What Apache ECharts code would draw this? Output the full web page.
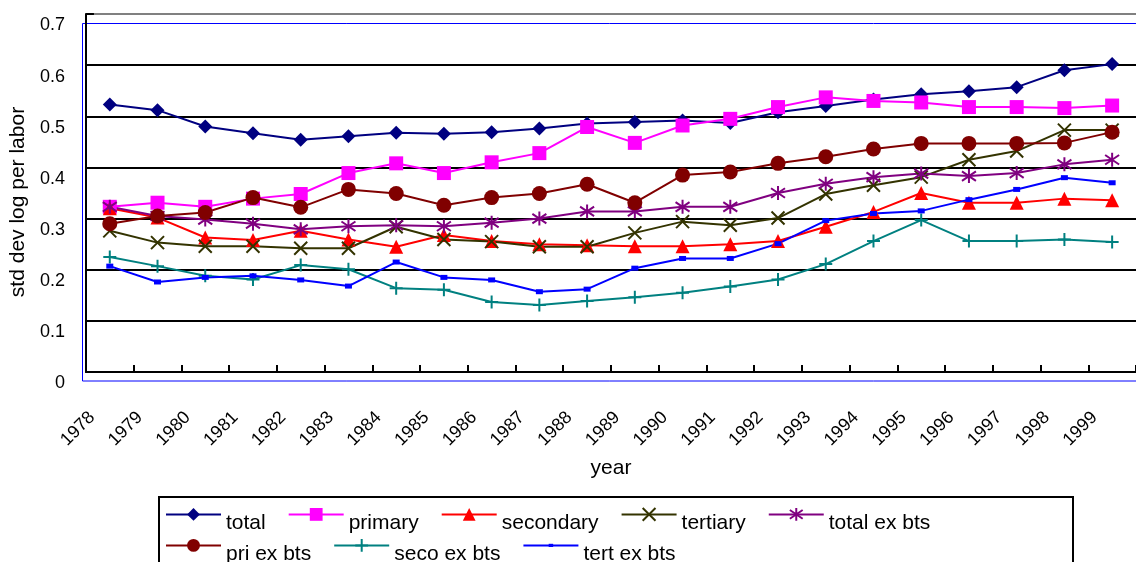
<!DOCTYPE html>
<html>
<head>
<meta charset="utf-8">
<script src="https://cdn.jsdelivr.net/npm/echarts@6/dist/echarts.min.js"></script>
<style>
html,body{margin:0;padding:0;background:#fff;}
#chart{width:1136px;height:562px;}
</style>
</head>
<body>
<div id="chart"></div>
<script>
const years = ['1978','1979','1980','1981','1982','1983','1984','1985','1986','1987','1988','1989','1990','1991','1992','1993','1994','1995','1996','1997','1998','1999'];
const total = [0.523,0.512,0.480,0.467,0.454,0.461,0.468,0.466,0.469,0.476,0.486,0.489,0.492,0.487,0.508,0.520,0.533,0.543,0.549,0.557,0.590,0.602];
const primary = [0.323,0.331,0.323,0.339,0.348,0.389,0.408,0.389,0.410,0.428,0.479,0.448,0.482,0.495,0.518,0.537,0.530,0.527,0.518,0.518,0.516,0.521];
const secondary = [0.320,0.302,0.263,0.258,0.276,0.259,0.245,0.268,0.256,0.250,0.248,0.246,0.246,0.250,0.256,0.284,0.313,0.350,0.331,0.331,0.339,0.336];
const tertiary = [0.276,0.253,0.246,0.246,0.242,0.242,0.284,0.259,0.255,0.245,0.245,0.272,0.294,0.287,0.301,0.348,0.365,0.381,0.415,0.432,0.473,0.473];
const totalExBts = [0.323,0.305,0.298,0.290,0.279,0.285,0.287,0.285,0.292,0.300,0.314,0.314,0.323,0.323,0.350,0.368,0.381,0.388,0.383,0.389,0.406,0.415];
const priExBts = [0.290,0.305,0.312,0.341,0.322,0.357,0.349,0.326,0.341,0.349,0.367,0.331,0.385,0.391,0.408,0.421,0.436,0.447,0.447,0.447,0.448,0.469];
const secoExBts = [0.225,0.207,0.188,0.181,0.209,0.201,0.164,0.161,0.137,0.131,0.139,0.146,0.155,0.167,0.181,0.211,0.256,0.297,0.256,0.256,0.259,0.254];
const tertExBts = [0.207,0.176,0.185,0.188,0.180,0.168,0.215,0.185,0.180,0.157,0.162,0.203,0.222,0.222,0.251,0.296,0.310,0.315,0.337,0.357,0.380,0.370];

const FONT = "'Liberation Sans', Arial, sans-serif";
const X_PATH = 'path://M0,0L10,10M10,0L0,10';
const STAR_PATH = 'path://M5,0L5,10M0.6,1.6L9.4,8.4M9.4,1.6L0.6,8.4';
const PLUS_PATH = 'path://M5,0L5,10M0,5L10,5';
const SMALL_RECT_PATH = 'path://M0,0M20,20M6.5,7.5L13.5,7.5L13.5,12.5L6.5,12.5Z';

function lineSeries(name, data, color, symbol, size, strokeMarker) {
  const s = {
    name: name,
    type: 'line',
    data: data,
    symbol: symbol,
    symbolSize: size,
    showAllSymbol: true,
    lineStyle: { color: color, width: 2 },
    itemStyle: { color: color },
    emphasis: { disabled: true },
    animation: false
  };
  if (strokeMarker) {
    s.itemStyle = { color: color, borderColor: color, borderWidth: 2 };
  }
  return s;
}

const chart = echarts.init(document.getElementById('chart'));
const legendCommon = {
  orient: 'horizontal',
  padding: 0,
  itemWidth: 55,
  itemHeight: 16,
  itemGap: 22,
  formatter: '{t|{name}}',
  textStyle: {
    fontFamily: FONT, fontSize: 21, color: '#000', width: 100,
    rich: { t: { fontFamily: FONT, fontSize: 21, color: '#000', padding: [18, 0, 0, 0] } }
  }
};
chart.setOption({
  backgroundColor: '#fff',
  animation: false,
  grid: { left: 84, right: -13, top: 14, bottom: 190 },
  xAxis: {
    type: 'category',
    data: years,
    boundaryGap: true,
    name: 'year',
    nameLocation: 'middle',
    nameGap: 86,
    nameTextStyle: { fontFamily: FONT, fontSize: 21, color: '#000' },
    axisLine: { lineStyle: { color: '#000', width: 2 } },
    axisTick: { show: true, inside: true, length: 7, alignWithLabel: false, interval: 0, lineStyle: { color: '#000', width: 2 } },
    axisLabel: { interval: 0, rotate: 45, margin: 25, padding: [0, 25, 0, 0], fontFamily: FONT, fontSize: 18, color: '#000' },
    splitLine: { show: false }
  },
  yAxis: {
    type: 'value',
    min: 0,
    max: 0.7,
    interval: 0.1,
    name: 'std dev log per labor',
    nameLocation: 'middle',
    nameGap: 49,
    nameRotate: 90,
    nameTextStyle: { fontFamily: FONT, fontSize: 21, color: '#000', padding: [0, 18, 0, 0] },
    axisLine: { show: true, lineStyle: { color: '#000', width: 2 } },
    axisTick: { show: true, inside: true, length: 8, lineStyle: { color: '#000', width: 2 } },
    axisLabel: {
      margin: 21, fontFamily: FONT, fontSize: 18, color: '#000', verticalAlign: 'top', lineHeight: 23,
      formatter: function (v) { return v === 0 ? '0' : v.toFixed(1); }
    },
    splitLine: { show: true, lineStyle: { width: 2, color: ['#000', '#000', '#000', '#000', '#000', '#000', '#000', '#808080'] } }
  },
  legend: [
    Object.assign({}, legendCommon, { left: 165, top: 507, data: ['total', 'primary', 'secondary', 'tertiary', 'total ex bts'] }),
    Object.assign({}, legendCommon, { left: 165, top: 538, data: ['pri ex bts', 'seco ex bts', 'tert ex bts'] })
  ],
  graphic: [
    { type: 'rect', z: 0, silent: true, shape: { x: 82.5, y: 23.5, width: 1100, height: 357.5 }, style: { fill: 'none', stroke: '#0000FF', lineWidth: 1 } },
    { type: 'rect', z: 0, silent: true, shape: { x: 159, y: 497, width: 914, height: 100 }, style: { fill: '#fff', stroke: '#000', lineWidth: 2 } }
  ],
  series: [
    lineSeries('total', total, '#000080', 'diamond', 14),
    lineSeries('primary', primary, '#FF00FF', 'rect', 14),
    lineSeries('secondary', secondary, '#FF0000', 'triangle', 14),
    lineSeries('tertiary', tertiary, '#333300', X_PATH, 13, true),
    lineSeries('total ex bts', totalExBts, '#800080', STAR_PATH, 14, true),
    lineSeries('pri ex bts', priExBts, '#800000', 'circle', 15),
    lineSeries('seco ex bts', secoExBts, '#008080', PLUS_PATH, 13, true),
    lineSeries('tert ex bts', tertExBts, '#0000FF', SMALL_RECT_PATH, 20)
  ]
});
</script>
</body>
</html>
